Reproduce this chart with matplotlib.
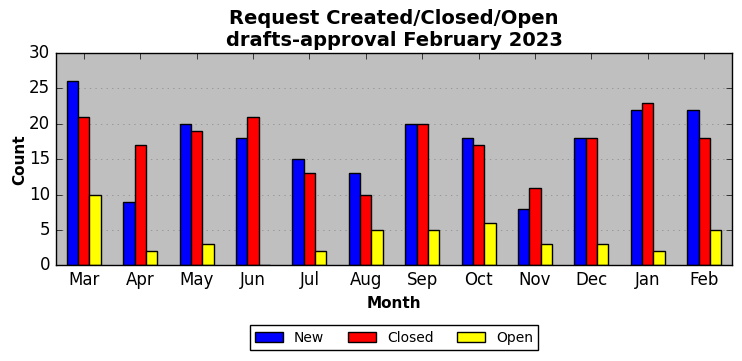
import matplotlib
matplotlib.use('Agg')
import matplotlib.pyplot as plt
import numpy as np

months = ['Mar', 'Apr', 'May', 'Jun', 'Jul', 'Aug', 'Sep', 'Oct', 'Nov', 'Dec', 'Jan', 'Feb']
new = [26, 9, 20, 18, 15, 13, 20, 18, 8, 18, 22, 22]
closed = [21, 17, 19, 21, 13, 10, 20, 17, 11, 18, 23, 18]
open_ = [10, 2, 3, 0, 2, 5, 5, 6, 3, 3, 2, 5]

plt.style.use('classic')
fig, ax = plt.subplots(figsize=(7.42, 3.61), dpi=100)
ax.set_facecolor('#bfbfbf')

x = np.arange(len(months))
w = 0.2
ax.bar(x - w, new, w, color='blue', edgecolor='black', label='New', align='center')
ax.bar(x, closed, w, color='red', edgecolor='black', label='Closed', align='center')
ax.bar(x + w, open_, w, color='yellow', edgecolor='black', label='Open', align='center')

ax.set_xlim(-0.5, len(months) - 0.5)
ax.set_ylim(0, 30)
ax.set_xticks(x)
ax.set_xticklabels(months)
ax.yaxis.grid(True, linestyle=':', color='#888888')
ax.set_axisbelow(True)

ax.set_title('Request Created/Closed/Open\ndrafts-approval February 2023',
             fontsize=14, fontweight='bold')
ax.set_xlabel('Month', fontsize=11, fontweight='bold')
ax.set_ylabel('Count', fontsize=11, fontweight='bold', labelpad=1)

ax.legend(loc='upper center', bbox_to_anchor=(0.5, -0.25), ncol=3,
          fontsize=10, frameon=True, fancybox=False, columnspacing=1.7)

fig.subplots_adjust(left=0.075, right=0.987, top=0.853, bottom=0.265)
fig.savefig('out.png', dpi=100, facecolor='white')
